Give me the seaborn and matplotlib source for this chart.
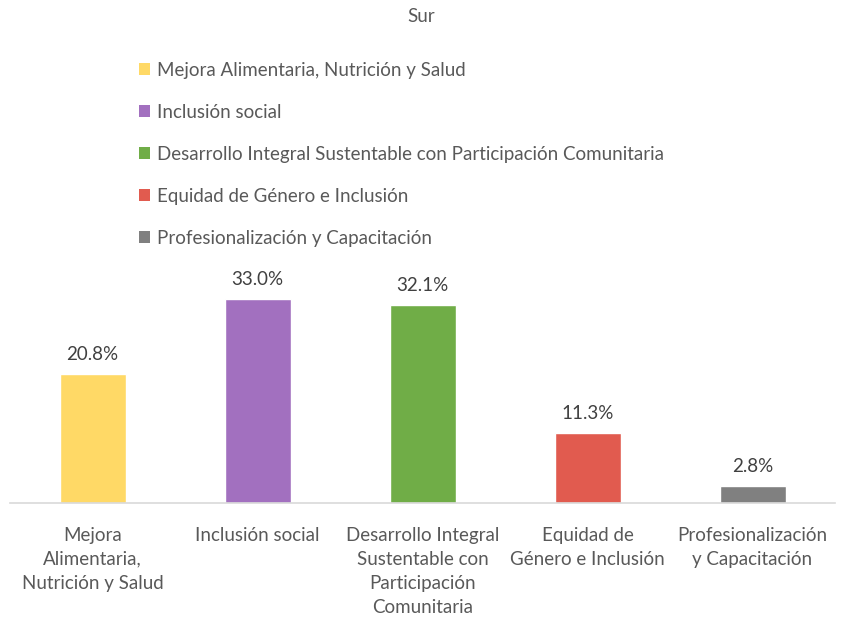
import matplotlib
matplotlib.use("Agg")
import matplotlib.pyplot as plt
import seaborn as sns
import pandas as pd
from matplotlib.patches import Patch

title = "Sur"
categories = [
    "Mejora Alimentaria, Nutrición y Salud",
    "Inclusión social",
    "Desarrollo Integral Sustentable con Participación Comunitaria",
    "Equidad de Género e Inclusión",
    "Profesionalización y Capacitación",
]
tick_labels = [
    "Mejora\nAlimentaria,\nNutrición y Salud",
    "Inclusión social",
    "Desarrollo Integral\nSustentable con\nParticipación\nComunitaria",
    "Equidad de\nGénero e Inclusión",
    "Profesionalización\ny Capacitación",
]
values = [20.8, 33.0, 32.1, 11.3, 2.8]
colors = ["#FFD966", "#A270BF", "#70AD47", "#E15B4F", "#808080"]

sns.set_theme(style="white")
plt.rcParams["font.family"] = ["Lato", "DejaVu Sans"]
text_color = "#595959"
fs = 13.5

df = pd.DataFrame({"cat": categories, "val": values})

fig = plt.figure(figsize=(8.42, 6.19), dpi=100)
ax = fig.add_axes([10 / 842, 1 - 503 / 619, 825 / 842, 253 / 619])
sns.barplot(data=df, x="cat", y="val", hue="cat", palette=colors, order=categories,
            hue_order=categories, width=0.4, legend=False, ax=ax, saturation=1)

ax.set_xlim(-0.5, 4.5)
ax.set_ylim(0, 253 / 6.18)
for c in ax.containers:
    ax.bar_label(c, labels=[f"{v:.1f}%" for v in c.datavalues], padding=8,
                 fontsize=fs, color="#404040")

ax.set_xticks(range(len(categories)))
ax.set_xticklabels(tick_labels, fontsize=fs, color=text_color, linespacing=1.5)
ax.tick_params(axis="x", length=0, pad=17)
ax.set_yticks([])
ax.set_xlabel("")
ax.set_ylabel("")
for s in ["top", "right", "left"]:
    ax.spines[s].set_visible(False)
ax.spines["bottom"].set_color("#D9D9D9")
ax.spines["bottom"].set_linewidth(1.2)

fig.text(0.5, 1 - 17 / 619, title, ha="center", va="center", fontsize=fs, color=text_color)

handles = [Patch(facecolor=col, edgecolor="none") for col in colors]
leg = fig.legend(handles, categories, loc="upper left",
                 bbox_to_anchor=(139 / 842, 1 - 62 / 619), frameon=False,
                 fontsize=fs, labelspacing=1.33, handlelength=0.6, handleheight=0.6,
                 handletextpad=0.35, borderaxespad=0, borderpad=0)
for t in leg.get_texts():
    t.set_color(text_color)

fig.savefig("out.png", dpi=100, facecolor="white")
